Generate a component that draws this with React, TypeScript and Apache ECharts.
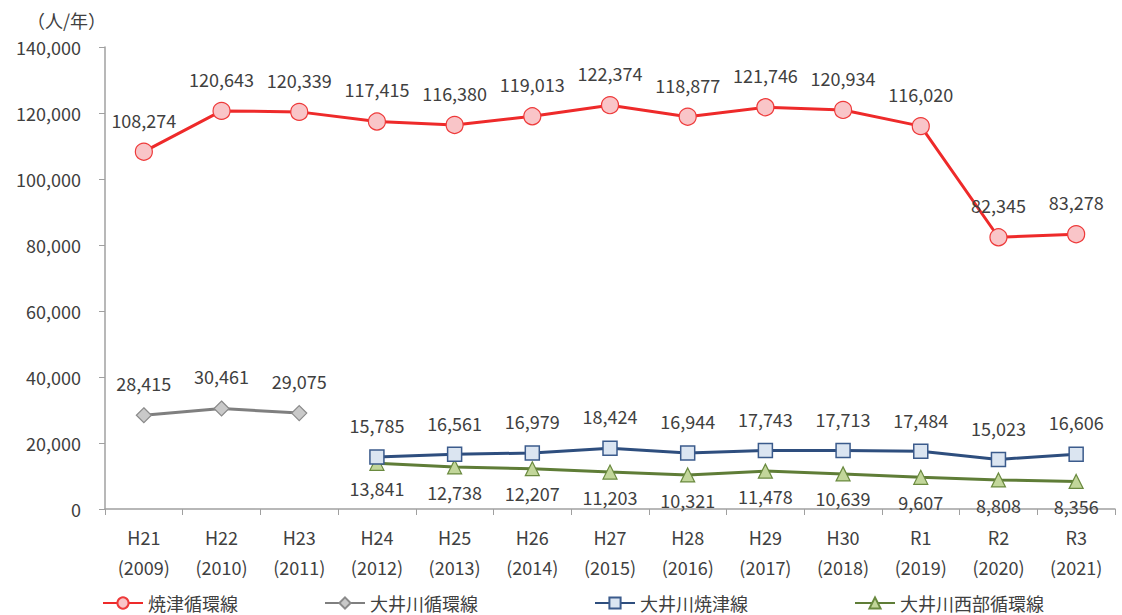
import React, { useEffect, useRef } from "react";
import * as echarts from "echarts";

const categories = [
  "H21\n(2009)", "H22\n(2010)", "H23\n(2011)", "H24\n(2012)", "H25\n(2013)",
  "H26\n(2014)", "H27\n(2015)", "H28\n(2016)", "H29\n(2017)", "H30\n(2018)",
  "R1\n(2019)", "R2\n(2020)", "R3\n(2021)",
];
const yaizuLoop = [108274, 120643, 120339, 117415, 116380, 119013, 122374, 118877, 121746, 120934, 116020, 82345, 83278];
const oigawaLoop = [28415, 30461, 29075, null, null, null, null, null, null, null, null, null, null];
const oigawaYaizu = [null, null, null, 15785, 16561, 16979, 18424, 16944, 17743, 17713, 17484, 15023, 16606];
const oigawaWest = [null, null, null, 13841, 12738, 12207, 11203, 10321, 11478, 10639, 9607, 8808, 8356];
const seriesNames = ["焼津循環線", "大井川循環線", "大井川焼津線", "大井川西部循環線"];

const FONT = "'Noto Sans CJK JP', 'Noto Sans', sans-serif";
const TEXT = "#404040";

export default function App() {
  const ref = useRef<HTMLDivElement>(null);
  useEffect(() => {
    const chart = echarts.init(ref.current!, undefined, { renderer: "svg" });
    const fmt = (p: any) => (p.value == null ? "" : Number(p.value).toLocaleString("en-US"));
    const lbl = (pos: string, dist: number) => ({
      show: true,
      position: pos,
      distance: dist,
      formatter: fmt,
      fontSize: 18,
      color: TEXT,
      fontFamily: FONT,
    });
    const legendBase = {
      bottom: 1,
      itemWidth: 40,
      itemHeight: 14,
      itemGap: 10,
      padding: 0,
      textStyle: { fontSize: 18, color: TEXT, fontFamily: FONT, lineHeight: 22 },
    };
    chart.setOption({
      animation: false,
      textStyle: { fontFamily: FONT },
      title: {
        text: "（人/年）",
        left: 22,
        top: 6,
        textStyle: { fontSize: 18, fontWeight: "normal", color: TEXT, fontFamily: FONT },
      },
      grid: { left: 105, right: 7, top: 47, bottom: 106, containLabel: false },
      legend: [
        { ...legendBase, left: 102, data: [seriesNames[0]] },
        { ...legendBase, left: 324, data: [seriesNames[1]] },
        { ...legendBase, left: 594, data: [seriesNames[2]] },
        { ...legendBase, left: 854, data: [seriesNames[3]] },
      ],
      xAxis: {
        type: "category",
        data: categories,
        boundaryGap: true,
        axisLine: { lineStyle: { color: "#a0a0a0", width: 1.5 } },
        axisTick: { show: true, length: 6, lineStyle: { color: "#a0a0a0" } },
        axisLabel: { fontSize: 18, color: TEXT, lineHeight: 30, margin: 13, fontFamily: FONT },
      },
      yAxis: {
        type: "value",
        min: 0,
        max: 140000,
        interval: 20000,
        splitLine: { show: false },
        axisLine: { show: true, lineStyle: { color: "#a0a0a0", width: 1.5 } },
        axisTick: { show: true, length: 6, lineStyle: { color: "#a0a0a0" } },
        axisLabel: {
          fontSize: 18,
          color: TEXT,
          margin: 24,
          fontFamily: FONT,
          formatter: (v: number) => v.toLocaleString("en-US"),
        },
      },
      series: [
        {
          name: seriesNames[0],
          type: "line",
          data: yaizuLoop,
          symbol: "circle",
          symbolSize: 17,
          lineStyle: { color: "#ee2a2a", width: 3 },
          itemStyle: { color: "#f9c5c8", borderColor: "#ee3a3a", borderWidth: 1.2 },
          label: lbl("top", 14),
          z: 4,
        },
        {
          name: seriesNames[1],
          type: "line",
          data: oigawaLoop,
          symbol: "diamond",
          symbolSize: 15,
          lineStyle: { color: "#7f7f7f", width: 3 },
          itemStyle: { color: "#c9c9c9", borderColor: "#8a8a8a", borderWidth: 1.2 },
          label: lbl("top", 15),
          z: 3,
        },
        {
          name: seriesNames[2],
          type: "line",
          data: oigawaYaizu,
          symbol: "rect",
          symbolSize: 14,
          lineStyle: { color: "#2e4e7e", width: 3 },
          itemStyle: { color: "#dbe5f1", borderColor: "#3b5b8c", borderWidth: 1.5 },
          label: lbl("top", 15),
          z: 3,
        },
        {
          name: seriesNames[3],
          type: "line",
          data: oigawaWest,
          symbol: "triangle",
          symbolSize: 14,
          lineStyle: { color: "#5f7d37", width: 3 },
          itemStyle: { color: "#c2d69a", borderColor: "#6a8a3f", borderWidth: 1.2 },
          label: lbl("bottom", 8),
          z: 2,
        },
      ],
    });
    return () => chart.dispose();
  }, []);
  return (
    <div
      ref={ref}
      style={{ position: "absolute", left: 0, top: 0, width: 1122, height: 615 }}
    />
  );
}
